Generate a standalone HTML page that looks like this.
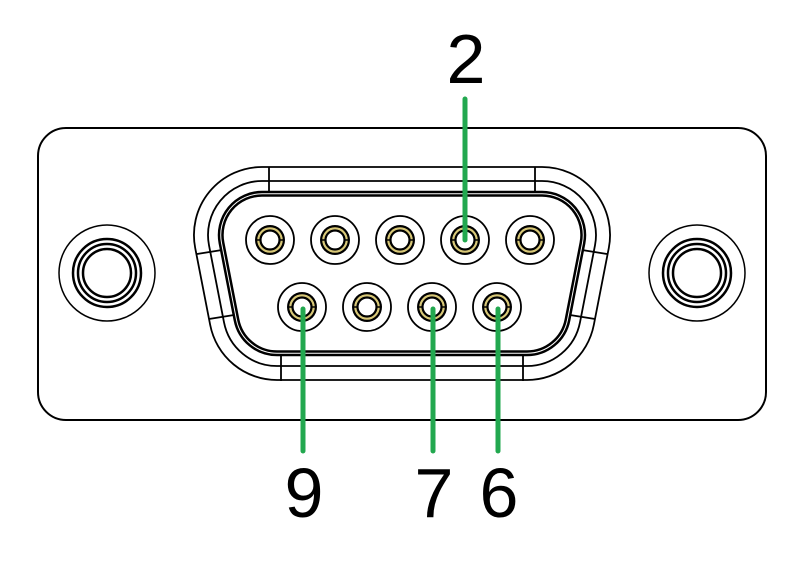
<!DOCTYPE html>
<html><head><meta charset="utf-8"><style>
html,body{margin:0;padding:0;background:#fff;}
svg{display:block}
text{font-family:"Liberation Sans",Arial,sans-serif;font-size:70px;fill:#000;text-anchor:middle}
</style></head><body>
<svg width="804" height="561" viewBox="0 0 804 561" xmlns="http://www.w3.org/2000/svg">
<defs>
<g id="pin">
<circle r="24" fill="#fff" stroke="#000" stroke-width="1.8"/>
<circle r="15" fill="#000"/>
<circle r="12.8" fill="#d8c878"/>
<circle r="9.5" fill="#fff" stroke="#000" stroke-width="2.2"/>
<line x1="-14" y1="0" x2="-9" y2="0" stroke="#000" stroke-width="1.5"/>
<line x1="9" y1="0" x2="14" y2="0" stroke="#000" stroke-width="1.5"/>
</g>
<g id="hole">
<circle r="48" fill="#fff" stroke="#000" stroke-width="1.5"/>
<circle r="34" fill="none" stroke="#000" stroke-width="2.5"/>
<circle r="29" fill="none" stroke="#000" stroke-width="2.5"/>
<circle r="24" fill="none" stroke="#000" stroke-width="2.5"/>
</g>
</defs>
<rect x="38" y="128" width="728" height="292" rx="28" fill="#fff" stroke="#000" stroke-width="2"/>
<use href="#hole" x="107" y="273"/>
<use href="#hole" x="697" y="273"/>
<g fill="none" stroke="#000">
<path d="M262 167 L542 167 A68 68 0 0 1 608.8 248 L593.8 325 A68 68 0 0 1 527 380 L277 380 A68 68 0 0 1 210.2 325 L195.2 248 A68 68 0 0 1 262 167 Z" stroke-width="1.8"/>
<path d="M262 181 L542 181 A54 54 0 0 1 595 245.3 L580 322.3 A54 54 0 0 1 527 366 L277 366 A54 54 0 0 1 224 322.3 L209 245.3 A54 54 0 0 1 262 181 Z" stroke-width="1.8"/>
<path d="M262 192 L542 192 A43 43 0 0 1 584.2 243.2 L569.2 320.2 A43 43 0 0 1 527 355 L277 355 A43 43 0 0 1 234.8 320.2 L219.8 243.2 A43 43 0 0 1 262 192 Z" stroke-width="2.5"/>
<path d="M262 195.5 L542 195.5 A39.5 39.5 0 0 1 580.8 242.5 L565.8 319.5 A39.5 39.5 0 0 1 527 351.5 L277 351.5 A39.5 39.5 0 0 1 238.2 319.5 L223.2 242.5 A39.5 39.5 0 0 1 262 195.5 Z" stroke-width="2.5"/>
<g stroke-width="1.8">
<line x1="269" y1="167" x2="269" y2="193"/>
<line x1="535" y1="167" x2="535" y2="193"/>
<line x1="281" y1="354" x2="281" y2="381"/>
<line x1="523" y1="354" x2="523" y2="381"/>
<line x1="197" y1="254" x2="222" y2="250"/>
<line x1="607" y1="254" x2="582" y2="250"/>
<line x1="209" y1="319" x2="234" y2="315"/>
<line x1="595" y1="319" x2="570" y2="315"/>
</g>
</g>
<use href="#pin" x="270" y="240"/>
<use href="#pin" x="335" y="240"/>
<use href="#pin" x="400" y="240"/>
<use href="#pin" x="465" y="240"/>
<use href="#pin" x="530" y="240"/>
<use href="#pin" x="302" y="307"/>
<use href="#pin" x="367" y="307"/>
<use href="#pin" x="432" y="307"/>
<use href="#pin" x="497" y="307"/>
<g stroke="#22a84f" stroke-width="5" stroke-linecap="round">
<line x1="465" y1="99" x2="465" y2="240"/>
<line x1="303" y1="309" x2="303" y2="451"/>
<line x1="433" y1="309" x2="433" y2="451"/>
<line x1="498" y1="309" x2="498" y2="451"/>
</g>
<text x="466" y="83">2</text>
<text x="304" y="517">9</text>
<text x="434" y="517">7</text>
<text x="499" y="517">6</text>
</svg>
</body></html>
